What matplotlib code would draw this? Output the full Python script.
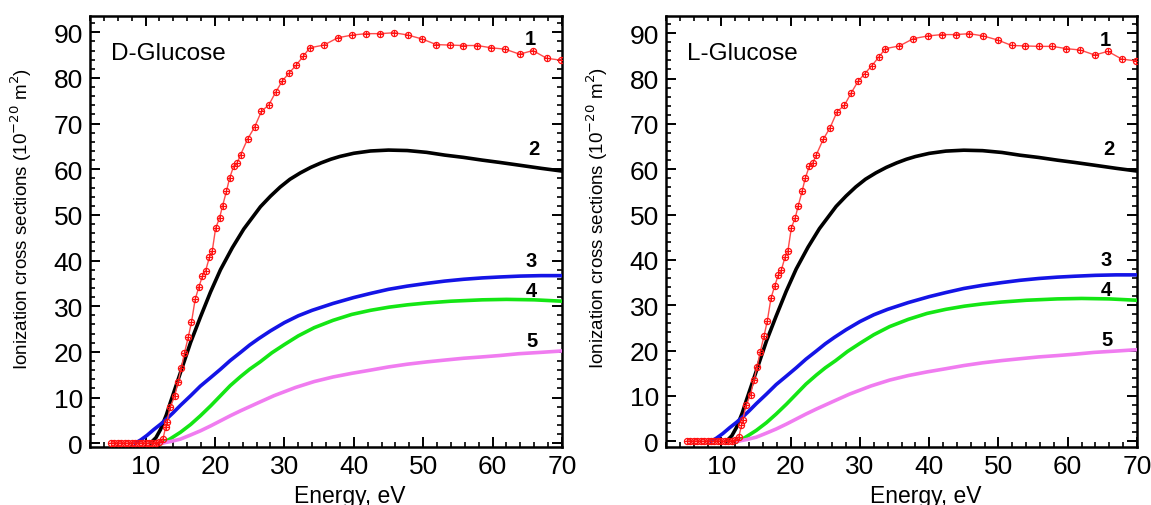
import matplotlib
matplotlib.use("Agg")
import matplotlib.pyplot as plt
from matplotlib.ticker import MultipleLocator

plt.rcParams['font.family'] = ['Liberation Sans', 'DejaVu Sans']

# ---- data ----
# curve 1: experiment (red, circle-plus markers)
e1 = [5.0, 5.5, 6.0, 6.5, 7.0, 7.5, 8.0, 8.5, 9.0, 9.5, 10.0, 10.5, 11.0, 11.5, 12.0,
      12.5, 12.9, 13.07, 13.55, 14.2, 14.7, 15.14, 15.6, 16.15, 16.62, 17.15, 17.68,
      18.2, 18.64, 19.2, 19.6, 20.1, 20.66, 21.1, 21.66, 22.1, 22.7, 23.2, 23.7, 24.7,
      25.7, 26.7, 27.76, 28.76, 29.73, 30.7, 31.7, 32.7, 33.66, 35.7, 37.7, 39.8, 41.8,
      43.8, 45.8, 47.8, 49.9, 51.9, 53.8, 55.8, 57.8, 59.8, 61.8, 63.9, 65.8, 67.8, 69.8]
y1 = [0.0, 0.1, 0.0, 0.1, 0.0, 0.0, 0.1, 0.0, 0.0, 0.1, 0.0, 0.0, 0.1, 0.1, 0.2,
      0.9, 3.5, 4.6, 7.9, 10.3, 13.5, 16.4, 19.7, 23.2, 26.5, 31.5, 34.2,
      36.6, 37.7, 40.7, 42.0, 47.1, 49.3, 52.0, 55.2, 58.0, 60.7, 61.4, 63.2, 66.6,
      69.2, 72.7, 74.1, 76.9, 79.4, 81.1, 82.8, 84.7, 86.6, 87.2, 88.8, 89.4, 89.7,
      89.7, 89.9, 89.4, 88.5, 87.3, 87.2, 87.1, 87.1, 86.6, 86.3, 85.2, 86.0, 84.3, 83.9]

# curve 2 (black)
e2 = [10.7, 11.5, 12.16, 13.0, 13.6, 15.04, 16.5, 17.9, 19.36, 20.8, 22.5, 24.15, 26.56,
      28.0, 29.4, 30.8, 32.3, 33.8, 35.3, 36.7, 38.0, 40.0, 42.4, 45.0, 47.7, 50.5,
      53.1, 55.8, 58.5, 61.0, 63.8, 67.0, 70.0]
y2 = [0.0, 1.2, 3.0, 6.2, 9.0, 15.5, 22.1, 27.6, 33.1, 38.0, 42.8, 46.9, 51.8,
      54.1, 56.1, 57.8, 59.2, 60.4, 61.4, 62.2, 62.8, 63.5, 64.0, 64.2, 64.1, 63.7,
      63.1, 62.6, 62.0, 61.5, 60.9, 60.2, 59.6]

# curve 3 (blue)
e3 = [8.5, 9.3, 10.2, 11.2, 12.2, 13.1, 14.0, 15.04, 16.5, 17.9, 19.4, 20.8, 22.2,
      23.7, 25.0, 26.3, 28.0, 30.0, 32.0, 34.0, 37.0, 40.0, 42.4, 45.0, 47.7, 50.5,
      53.1, 55.8, 58.5, 61.0, 64.0, 67.0, 70.0]
y3 = [0.0, 0.7, 1.7, 3.0, 4.2, 5.4, 6.7, 8.3, 10.4, 12.5, 14.4, 16.2, 18.1,
      19.9, 21.5, 22.9, 24.6, 26.4, 27.9, 29.1, 30.6, 31.9, 32.8, 33.7, 34.4, 35.0,
      35.5, 35.9, 36.2, 36.4, 36.6, 36.7, 36.7]

# curve 4 (green)
e4 = [12.4, 13.5, 15.04, 16.5, 17.9, 19.4, 20.8, 22.2, 23.7, 25.0, 26.5, 28.2, 30.0,
      32.0, 34.3, 37.0, 39.7, 42.4, 45.1, 47.7, 50.4, 54.0, 58.5, 62.0, 66.0, 70.0]
y4 = [0.0, 0.9, 2.4, 4.1, 6.0, 8.2, 10.4, 12.6, 14.6, 16.2, 17.8, 19.8, 21.6,
      23.5, 25.3, 26.9, 28.2, 29.1, 29.8, 30.3, 30.7, 31.1, 31.4, 31.5, 31.4, 31.1]

# curve 5 (violet)
e5 = [12.4, 13.7, 15.04, 16.5, 17.9, 19.4, 20.8, 22.2, 23.7, 25.0, 26.3, 28.5, 31.6,
      34.3, 37.0, 39.7, 42.4, 45.0, 47.7, 50.5, 53.1, 55.8, 58.5, 61.0, 63.8, 67.0, 70.0]
y5 = [0.0, 0.4, 0.9, 1.8, 2.7, 3.8, 4.9, 6.0, 7.1, 8.0, 8.9, 10.4, 12.2,
      13.5, 14.5, 15.3, 16.0, 16.7, 17.3, 17.8, 18.2, 18.6, 18.9, 19.2, 19.6, 19.9, 20.2]

curve_labels = ['1', '2', '3', '4', '5']
label_x = [65.4, 66.0, 65.6, 65.6, 65.7]
label_y = [88.7, 64.5, 40.0, 33.5, 22.5]

panel_titles = ['D-Glucose', 'L-Glucose']
xticks = [10, 20, 30, 40, 50, 60, 70]
yticks = [0, 10, 20, 30, 40, 50, 60, 70, 80, 90]

W, H = 1151, 506
fig = plt.figure(figsize=(W / 100, H / 100), dpi=100)

panels = [
    dict(rect=[90 / W, 1 - 448.3 / H, 472 / W, 431 / H], ylim=(-0.9, 93.5)),
    dict(rect=[666 / W, 1 - 447.7 / H, 471 / W, 430.7 / H], ylim=(-1.2, 93.8)),
]

for p, title in zip(panels, panel_titles):
    ax = fig.add_axes(p['rect'])
    ax.plot(e2, y2, color='black', lw=2.6, zorder=3)
    ax.plot(e3, y3, color='#1414e6', lw=2.6, zorder=3)
    ax.plot(e4, y4, color='#14e614', lw=2.6, zorder=3)
    ax.plot(e5, y5, color='#f07cf0', lw=2.6, zorder=3)
    ax.plot(e1, y1, color='#ff4a4a', lw=1.0, marker='o', ms=4.4, mfc='none',
            mec='#ff1010', mew=0.9, zorder=4)
    ax.plot(e1, y1, ls='none', marker='+', ms=3.8, color='#ff1010', mew=0.8, zorder=5)

    for t, lx, ly in zip(curve_labels, label_x, label_y):
        ax.text(lx, ly, t, fontsize=14.5, fontweight='bold', ha='center', va='center')

    ax.text(0.045, 0.901, title, transform=ax.transAxes, fontsize=17.5,
            ha='left', va='baseline')

    ax.set_xlim(2, 70)
    ax.set_ylim(*p['ylim'])
    ax.set_xticks(xticks)
    ax.set_yticks(yticks)
    ax.xaxis.set_minor_locator(MultipleLocator(2))
    ax.yaxis.set_minor_locator(MultipleLocator(2))
    ax.tick_params(which='both', direction='in', top=True, right=True)
    ax.tick_params(which='major', length=7, width=1.4, labelsize=19, pad=5)
    ax.tick_params(which='minor', length=3.6, width=1.2)
    for s in ax.spines.values():
        s.set_linewidth(1.8)

    ax.set_ylabel('Ionization cross sections (10$^{-20}$ m$^{2}$)', fontsize=13.5)
    ax.yaxis.set_label_coords(-0.118, 0.533)
    ax.text(0.551, -0.128, 'Energy, eV', transform=ax.transAxes, fontsize=16.5,
            ha='center', va='baseline')

fig.savefig('out.png', dpi=100)
